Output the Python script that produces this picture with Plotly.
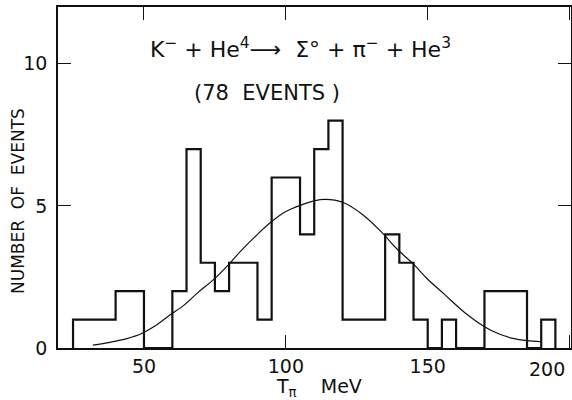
import plotly.graph_objects as go

# Histogram: 5-MeV bins starting at 25 MeV
bin_start = 25
bin_width = 5
counts = [1, 1, 1, 2, 2, 0, 0, 2, 7, 3, 2, 3, 3, 1, 6, 6, 4, 7, 8, 1, 1, 1,
          4, 3, 1, 0, 1, 0, 0, 2, 2, 2, 0, 1]

# Smooth curve
curve_x = [32, 38, 44, 49, 54, 59, 64, 69, 75, 80, 84, 90, 95, 100, 105, 110,
           114, 120, 127, 134, 139, 145, 150, 156, 163, 170, 175, 180, 185, 190]
curve_y = [0.1, 0.2, 0.33, 0.5, 0.78, 1.15, 1.5, 1.95, 2.45, 2.95, 3.4, 4.0,
           4.45, 4.8, 5.02, 5.18, 5.23, 5.13, 4.7, 4.05, 3.5, 2.95, 2.42, 1.88,
           1.25, 0.75, 0.5, 0.34, 0.26, 0.22]

x_tickvals = [50, 100, 150, 200]
x_ticktext = ["50", "100", "150", ""]
y_tickvals = [0, 5, 10]

edges = [bin_start + i * bin_width for i in range(len(counts) + 1)]
step_x = [edges[0]] + edges
step_y = [0] + counts + [0]

FONT = "DejaVu Sans, Liberation Sans, sans-serif"
INK = "#111111"

# plot area in pixels
L, R, T, B = 58, 571, 7, 348
PW, PH = R - L, B - T

def px(x):
    return (x - L) / PW

def py(y):
    return (B - y) / PH

fig = go.Figure()
fig.add_trace(go.Scatter(x=step_x, y=step_y, mode="lines", line_shape="hv",
                         line=dict(color=INK, width=2.2), hoverinfo="skip"))
fig.add_trace(go.Scatter(x=curve_x, y=curve_y, mode="lines", line_shape="spline",
                         line=dict(color=INK, width=1.2), hoverinfo="skip"))

axis_common = dict(showline=True, mirror="ticks", linecolor=INK, linewidth=1.6,
                   ticks="inside", ticklen=13, tickwidth=1.4, tickcolor=INK,
                   showgrid=False, zeroline=False, automargin=False,
                   tickfont=dict(family=FONT, size=19, color=INK))

fig.update_xaxes(range=[19.7, 200.5], tickvals=x_tickvals, ticktext=x_ticktext,
                 **axis_common)
fig.update_yaxes(range=[0, 12], tickvals=y_tickvals, ticklabelstandoff=5,
                 **axis_common)

fig.add_annotation(x=px(567), y=0, xref="paper", yref="paper", xanchor="right",
                   yanchor="top", yshift=-8, text="200", showarrow=False,
                   font=dict(family=FONT, size=19, color=INK))
fig.add_annotation(x=105, y=10.56, xanchor="center", yanchor="middle",
                   text="K<sup>−</sup> + He<sup>4</sup>⟶  Σ° + π<sup>−</sup> + He<sup>3</sup>",
                   showarrow=False, font=dict(family=FONT, size=22, color=INK))
fig.add_annotation(x=93.4, y=8.98, xanchor="center", yanchor="middle",
                   text="(78  EVENTS )", showarrow=False,
                   font=dict(family=FONT, size=21, color=INK))
fig.add_annotation(x=px(319), y=py(388), xref="paper", yref="paper",
                   xanchor="center", yanchor="middle",
                   text="T<sub>π</sub>    MeV", showarrow=False,
                   font=dict(family=FONT, size=19, color=INK))
fig.add_annotation(x=px(18), y=py(201), xref="paper", yref="paper",
                   xanchor="center", yanchor="middle",
                   text="NUMBER  OF  EVENTS", textangle=-90, showarrow=False,
                   font=dict(family=FONT, size=17, color=INK))

fig.update_layout(
    width=572, height=400, margin=dict(l=L, r=572 - R, t=T, b=400 - B),
    paper_bgcolor="white", plot_bgcolor="white", showlegend=False,
)

fig.write_html("out.html", config={"displayModeBar": False},
               post_script="document.body.style.margin='0';"
                           "document.body.style.overflow='hidden';")
